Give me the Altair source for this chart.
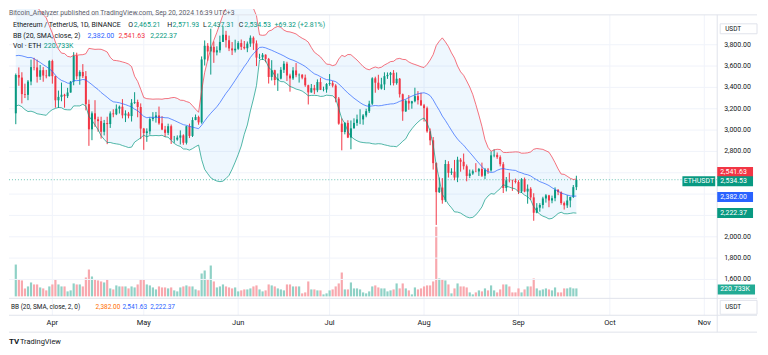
import altair as alt
import pandas as pd

FONT = "Roboto"
INK = "#131722"
GRAY = "#5d606b"
UP = "#089981"
DOWN = "#f23645"
BLUE = "#2962ff"
FRAME = "#e0e3eb"
GRID = "#f0f3fa"

# ---------------- data (ETH/USDT daily) ----------------
dates = pd.date_range("2024-03-20", "2024-09-20", freq="D")

# closes of Mar 1 - Mar 19 (only used to warm up the 20-day Bollinger band)
warmup_close = [3435, 3420, 3490, 3630, 3555, 3820, 3870, 3895, 3915, 3880,
                4065, 3980, 4005, 3880, 3735, 3525, 3645, 3520, 3157]

open_mar = [3157, 3516, 3492, 3337, 3330, 3455, 3590, 3587, 3500, 3561, 3511, 3505]
high_mar = [3530, 3587, 3542, 3435, 3469, 3660, 3677, 3660, 3610, 3590, 3564, 3655]
low_mar = [3055, 3415, 3250, 3300, 3280, 3420, 3560, 3445, 3470, 3453, 3485, 3502]
close_mar = [3516, 3492, 3337, 3330, 3455, 3590, 3587, 3500, 3561, 3511, 3505, 3647]

open_apr = [3647, 3505, 3279, 3311, 3331, 3318, 3352, 3454, 3697, 3504, 3544, 3505, 3243, 3007, 3157,
            3101, 3084, 2984, 3066, 3056, 3156, 3148, 3200, 3219, 3138, 3155, 3131, 3256, 3263, 3216]
high_apr = [3660, 3510, 3370, 3445, 3340, 3396, 3460, 3730, 3725, 3560, 3618, 3553, 3285, 3175, 3280,
            3125, 3125, 3095, 3125, 3175, 3195, 3240, 3230, 3290, 3185, 3170, 3290, 3355, 3285, 3250]
low_apr = [3435, 3210, 3207, 3270, 3210, 3300, 3350, 3420, 3475, 3425, 3488, 3185, 2852, 2905, 3030,
           2985, 2920, 2950, 2868, 3020, 3120, 3140, 3155, 3110, 3075, 3110, 3080, 3245, 3120, 2915]
close_apr = [3505, 3279, 3311, 3331, 3318, 3352, 3454, 3697, 3504, 3544, 3505, 3243, 3007, 3157, 3101,
             3084, 2984, 3066, 3056, 3156, 3148, 3200, 3219, 3138, 3155, 3131, 3256, 3263, 3216, 3014]

open_may = [3014, 2972, 2988, 3103, 3117, 3137, 3063, 3005, 2974, 3036, 2910, 2911, 2929, 2950, 2881, 3036,
            2945, 3094, 3122, 3072, 3662, 3790, 3737, 3780, 3728, 3748, 3826, 3893, 3842, 3765, 3747]
high_may = [3020, 3016, 3120, 3168, 3170, 3220, 3130, 3039, 3060, 3052, 2945, 2950, 2997, 2960, 3040, 3060,
            3120, 3146, 3135, 3690, 3840, 3815, 3950, 3830, 3785, 3885, 3975, 3930, 3885, 3825, 3847]
low_may = [2815, 2890, 2957, 3083, 3070, 3050, 2999, 2935, 2953, 2870, 2880, 2900, 2865, 2862, 2865, 2925,
           2935, 3092, 3050, 3060, 3605, 3650, 3520, 3630, 3700, 3725, 3826, 3774, 3740, 3703, 3727]
close_may = [2972, 2988, 3103, 3117, 3137, 3063, 3005, 2974, 3036, 2910, 2911, 2929, 2950, 2881, 3036, 2945,
             3094, 3122, 3072, 3662, 3790, 3737, 3780, 3728, 3748, 3826, 3893, 3842, 3765, 3747, 3762]

open_jun = [3762, 3815, 3780, 3767, 3810, 3865, 3812, 3679, 3682, 3706, 3667, 3498, 3561, 3469, 3482,
            3565, 3622, 3511, 3484, 3559, 3514, 3518, 3491, 3420, 3353, 3393, 3373, 3450, 3377, 3380]
high_jun = [3833, 3849, 3835, 3830, 3887, 3878, 3840, 3715, 3722, 3710, 3676, 3655, 3565, 3530, 3590,
            3646, 3640, 3528, 3590, 3628, 3530, 3525, 3520, 3425, 3432, 3423, 3475, 3490, 3407, 3440]
low_jun = [3752, 3750, 3755, 3730, 3780, 3751, 3600, 3665, 3657, 3635, 3436, 3465, 3420, 3367, 3475,
           3535, 3460, 3360, 3470, 3495, 3445, 3476, 3405, 3240, 3350, 3337, 3355, 3375, 3363, 3350]
close_jun = [3815, 3780, 3767, 3810, 3865, 3812, 3679, 3682, 3706, 3667, 3498, 3561, 3469, 3482, 3565,
             3622, 3511, 3484, 3559, 3514, 3518, 3491, 3420, 3353, 3393, 3373, 3450, 3377, 3380, 3432]

open_jul = [3432, 3440, 3417, 3295, 3060, 2982, 3067, 2930, 3016, 3067, 3100, 3100, 3137, 3177, 3247, 3485,
            3444, 3389, 3428, 3505, 3517, 3536, 3440, 3481, 3336, 3175, 3274, 3250, 3270, 3318, 3280]
high_jul = [3525, 3460, 3430, 3310, 3110, 3075, 3092, 3090, 3110, 3145, 3195, 3150, 3200, 3275, 3495, 3500,
            3518, 3490, 3541, 3540, 3545, 3562, 3540, 3488, 3342, 3285, 3328, 3274, 3397, 3365, 3350]
low_jul = [3415, 3400, 3260, 3050, 2810, 2960, 2925, 2820, 3015, 3040, 3055, 3050, 3120, 3160, 3235, 3350,
           3375, 3380, 3375, 3480, 3420, 3418, 3425, 3305, 3087, 3170, 3190, 3200, 3260, 3240, 3225]
close_jul = [3440, 3417, 3295, 3060, 2982, 3067, 2930, 3016, 3067, 3100, 3100, 3137, 3177, 3247, 3485, 3444,
             3389, 3428, 3505, 3517, 3536, 3440, 3481, 3336, 3175, 3274, 3250, 3270, 3318, 3280, 3232]

open_aug = [3232, 3205, 2988, 2904, 2690, 2418, 2461, 2343, 2682, 2599, 2610, 2555, 2722, 2703, 2661, 2570,
            2593, 2614, 2612, 2636, 2572, 2630, 2622, 2763, 2768, 2746, 2680, 2457, 2529, 2528, 2525]
high_aug = [3245, 3220, 3015, 2935, 2697, 2555, 2550, 2720, 2708, 2642, 2720, 2750, 2737, 2780, 2677, 2630,
            2630, 2690, 2645, 2695, 2645, 2645, 2800, 2820, 2790, 2763, 2700, 2560, 2600, 2535, 2545]
low_aug = [3080, 2975, 2858, 2630, 2111, 2410, 2310, 2325, 2555, 2580, 2530, 2512, 2610, 2630, 2520, 2550,
           2580, 2605, 2570, 2560, 2540, 2590, 2610, 2745, 2730, 2660, 2410, 2425, 2510, 2430, 2500]
close_aug = [3205, 2988, 2904, 2690, 2418, 2461, 2343, 2682, 2599, 2610, 2555, 2722, 2703, 2661, 2570, 2593,
             2614, 2612, 2636, 2572, 2630, 2622, 2763, 2768, 2746, 2680, 2457, 2529, 2528, 2525, 2513]

open_sep = [2513, 2425, 2538, 2424, 2450, 2369, 2225, 2273, 2298, 2359,
            2388, 2340, 2361, 2441, 2418, 2316, 2294, 2340, 2373, 2465.21]
high_sep = [2530, 2550, 2555, 2490, 2465, 2408, 2315, 2315, 2375, 2400,
            2393, 2386, 2463, 2445, 2425, 2330, 2390, 2375, 2485, 2571.93]
low_sep = [2400, 2410, 2417, 2310, 2346, 2150, 2220, 2235, 2265, 2320,
           2277, 2314, 2333, 2390, 2300, 2255, 2270, 2276, 2363, 2437.31]
close_sep = [2425, 2538, 2424, 2450, 2369, 2225, 2273, 2298, 2359, 2388,
             2340, 2361, 2441, 2418, 2316, 2294, 2340, 2373, 2465, 2534.53]

# volume in thousand ETH
vol_mar = [883, 469, 442, 221, 276, 386, 331, 331, 248, 221, 166, 276]
vol_apr = [331, 469, 331, 276, 276, 138, 166, 359, 331, 331, 276, 524, 745, 552, 469,
           442, 414, 386, 469, 221, 193, 304, 276, 276, 276, 221, 276, 248, 331, 469]
vol_may = [469, 331, 304, 248, 193, 276, 248, 248, 221, 248, 166, 138, 248, 276, 304, 276,
           276, 193, 166, 635, 718, 469, 856, 414, 248, 276, 331, 276, 248, 221, 248]
vol_jun = [138, 166, 193, 193, 221, 276, 304, 193, 138, 166, 331, 304, 276, 221, 193,
           166, 331, 331, 276, 276, 276, 83, 110, 414, 193, 193, 166, 166, 55, 83]
vol_jul = [166, 193, 276, 359, 662, 193, 193, 386, 221, 221, 193, 110, 83, 138, 276, 304,
           248, 221, 221, 138, 166, 193, 359, 221, 359, 221, 166, 55, 248, 193, 221]
vol_aug = [276, 304, 304, 414, 1932, 497, 469, 442, 331, 83, 221, 359, 276, 276, 248, 110,
           55, 110, 166, 138, 221, 166, 304, 166, 110, 193, 331, 331, 276, 110, 110]
vol_sep = [221, 110, 193, 276, 276, 497, 221, 166, 193, 221,
           193, 166, 248, 110, 110, 221, 221, 248, 221, 220.733]

month_labels = ["Apr", "May", "Jun", "Jul", "Aug", "Sep", "Oct", "Nov"]
month_starts = ["2024-04-01", "2024-05-01", "2024-06-01", "2024-07-01",
                "2024-08-01", "2024-09-01", "2024-10-01", "2024-11-01"]
price_ticks = [1600, 1800, 2000, 2200, 2400, 2600, 2800, 3000, 3200, 3400, 3600, 3800]
price_tick_labels = ["1,600.00", "1,800.00", "2,000.00", "", "", "",
                     "2,800.00", "3,000.00", "3,200.00", "3,400.00", "3,600.00", "3,800.00"]

opens = open_mar + open_apr + open_may + open_jun + open_jul + open_aug + open_sep
highs = high_mar + high_apr + high_may + high_jun + high_jul + high_aug + high_sep
lows = low_mar + low_apr + low_may + low_jun + low_jul + low_aug + low_sep
closes = close_mar + close_apr + close_may + close_jun + close_jul + close_aug + close_sep
vols = vol_mar + vol_apr + vol_may + vol_jun + vol_jul + vol_aug + vol_sep
n = len(dates)
assert len(opens) == len(highs) == len(lows) == len(closes) == len(vols) == n

t0 = dates[0]
df = pd.DataFrame({
    "i": [(d - t0).days for d in dates],
    "open": opens, "high": highs, "low": lows, "close": closes, "volume": vols,
})

# Bollinger band BB(20, SMA, close, 2)
allc = pd.Series(warmup_close + closes, dtype=float)
mid = allc.rolling(20).mean()
sd = allc.rolling(20).std(ddof=0)
df["basis"] = mid.iloc[-n:].values
df["upper"] = (mid + 2 * sd).iloc[-n:].values
df["lower"] = (mid - 2 * sd).iloc[-n:].values

months = pd.DataFrame({
    "label": month_labels,
    "i": [(pd.Timestamp(m) - t0).days for m in month_starts],
})
ticks = pd.DataFrame({"p": price_ticks, "label": price_tick_labels})

# ---------------- scales ----------------
W, H = 712, 308
xs = alt.Scale(domain=[-0.6, 228.6], nice=False, zero=False)
ps = alt.Scale(domain=[1264.3, 4135.6], nice=False, zero=False)
vs = alt.Scale(domain=[-524.4, 7976.4], nice=False, zero=False)
X = alt.X("i:Q", scale=xs, axis=None)

up_cond = "datum.close >= datum.open"
one = pd.DataFrame({"k": [0]})


def txt(s, x, y, color=INK, size=7, weight="normal", align="left"):
    return alt.Chart(one).mark_text(
        text=s, align=align, baseline="middle", font=FONT, fontSize=size,
        fontWeight=weight, color=color,
    ).encode(x=alt.value(x), y=alt.value(y))


def hline(y, x1=0, x2=752, color=FRAME):
    return alt.Chart(one).mark_rule(color=color, strokeWidth=1).encode(
        x=alt.value(x1), x2=alt.value(x2), y=alt.value(y))


def price_box(value, color, label, yoff=0, x1=712, x2=748, tx=715, align="left"):
    yd = alt.YDatum(value, type="quantitative", scale=ps, axis=None)
    r = alt.Chart(one).mark_rule(color=color, strokeWidth=10, yOffset=yoff).encode(
        x=alt.value(x1), x2=alt.value(x2), y=yd)
    t = alt.Chart(one).mark_text(text=label, color="white", font=FONT, fontSize=7,
                                 align=align, baseline="middle", yOffset=yoff).encode(
        x=alt.value(tx), y=yd)
    return r + t


base = alt.Chart(df)

# ---------------- volume group (own y scale) ----------------
vgrid = alt.Chart(months).mark_rule(color=GRID, strokeWidth=1).encode(
    x=X, y=alt.value(6), y2=alt.value(308))
vbars = base.mark_bar(size=2.2).encode(
    x=X,
    y=alt.Y("volume:Q", scale=vs, axis=None),
    y2=alt.Y2Datum(0),
    color=alt.condition(up_cond, alt.value("#8fd1c6"), alt.value("#f8a8ae")),
)
vyd = alt.YDatum(220.733, type="quantitative", scale=vs, axis=None)
vbox = alt.Chart(one).mark_rule(color="#22ab94", strokeWidth=10, yOffset=1).encode(
    x=alt.value(712), x2=alt.value(750), y=vyd)
vtext = alt.Chart(one).mark_text(text="220.733K", color="white", font=FONT, fontSize=7,
                                 align="left", baseline="middle", yOffset=1).encode(
    x=alt.value(715), y=vyd)
vol_group = alt.layer(vgrid, vbars, vbox, vtext)

# ---------------- price group ----------------
hgrid = alt.Chart(ticks).mark_rule(color=GRID, strokeWidth=1).encode(
    x=alt.value(0), x2=alt.value(712),
    y=alt.Y("p:Q", scale=ps, axis=None))
tick_text = alt.Chart(ticks).mark_text(
    font=FONT, fontSize=7, color=INK, align="left", baseline="middle").encode(
    x=alt.value(719), y=alt.Y("p:Q", scale=ps, axis=None), text="label:N")
bb_fill = base.mark_area(color="#2196f3", opacity=0.08, clip=True).encode(
    x=X, y=alt.Y("upper:Q", scale=ps, axis=None), y2="lower:Q")
wicks = base.mark_rule(strokeWidth=1).encode(
    x=X, y=alt.Y("low:Q", scale=ps, axis=None), y2="high:Q",
    color=alt.condition(up_cond, alt.value(UP), alt.value(DOWN)))
bodies = base.mark_bar(size=2).encode(
    x=X, y=alt.Y("open:Q", scale=ps, axis=None), y2="close:Q",
    color=alt.condition(up_cond, alt.value(UP), alt.value(DOWN)))
bb_up = base.mark_line(clip=True, strokeWidth=1, color=DOWN, opacity=0.7).encode(
    x=X, y=alt.Y("upper:Q", scale=ps, axis=None))
bb_mid = base.mark_line(clip=True, strokeWidth=1, color=BLUE, opacity=0.7).encode(
    x=X, y=alt.Y("basis:Q", scale=ps, axis=None))
bb_lo = base.mark_line(clip=True, strokeWidth=1, color=UP, opacity=0.7).encode(
    x=X, y=alt.Y("lower:Q", scale=ps, axis=None))
last_line = alt.Chart(one).mark_rule(color=UP, opacity=0.6, strokeDash=[1, 2]).encode(
    x=alt.value(0), x2=alt.value(712),
    y=alt.YDatum(2534.53, type="quantitative", scale=ps, axis=None))

month_text = alt.Chart(months).mark_text(
    font=FONT, fontSize=7.5, color=INK, align="center", baseline="middle").encode(
    x=X, y=alt.value(316), text="label:N")

frame = [
    hline(6), hline(291), hline(308), hline(325),
    alt.Chart(one).mark_rule(color=FRAME).encode(
        x=alt.value(712), y=alt.value(6), y2=alt.value(325)),
]

usdt_top = alt.Chart(one).mark_rect(fill="white", stroke=FRAME, strokeWidth=1).encode(
    x=alt.value(715), x2=alt.value(752), y=alt.value(15), y2=alt.value(25))
usdt_bot = alt.Chart(one).mark_rect(fill="white", stroke=FRAME, strokeWidth=1).encode(
    x=alt.value(715), x2=alt.value(752), y=alt.value(293), y2=alt.value(307))

texts = [
    txt("Bitcoin_Analyzer published on TradingView.com, Sep 20, 2024 16:39 UTC+3", 0, 4, GRAY, 6.8),
    txt("Ethereum / TetherUS, 1D, BINANCE", 4, 16.5, INK, 7),
    txt("O", 120, 16.5, INK, 7), txt("2,465.21", 125.5, 16.5, UP, 7),
    txt("H", 159, 16.5, INK, 7), txt("2,571.93", 164.5, 16.5, UP, 7),
    txt("L", 195, 16.5, INK, 7), txt("2,437.31", 199.5, 16.5, UP, 7),
    txt("C", 231, 16.5, INK, 7), txt("2,534.53", 236.5, 16.5, UP, 7),
    txt("+69.32 (+2.81%)", 267, 16.5, UP, 7),
    txt("BB (20, SMA, close, 2)", 4, 27, INK, 7),
    txt("2,382.00", 79, 27, BLUE, 7), txt("2,541.63", 110, 27, DOWN, 7),
    txt("2,222.37", 142, 27, UP, 7),
    txt("Vol · ETH", 4, 37.5, INK, 7), txt("220.733K", 35, 37.5, UP, 7),
    txt("BB (20, SMA, close, 2, 0)", 2, 299.5, INK, 6.5),
    txt("2,382.00", 87, 299.5, "#ff6d00", 6.5), txt("2,541.63", 114, 299.5, BLUE, 6.5),
    txt("2,222.37", 142, 299.5, BLUE, 6.5),
    txt("USDT", 720, 20, INK, 6.5), txt("USDT", 720, 300, INK, 6.5),
    txt("TV", 0, 335, INK, 8, "bold"), txt("TradingView", 11, 335, INK, 7.5),
]

boxes = [
    price_box(2541.63, DOWN, "2,541.63", yoff=-7),
    price_box(2534.53, UP, "2,534.53", yoff=1.5),
    price_box(2534.53, UP, "ETHUSDT", yoff=1.5, x1=677, x2=710, tx=693.5, align="center"),
    price_box(2382.00, BLUE, "2,382.00", yoff=1),
    price_box(2222.37, UP, "2,222.37"),
]

price_group = alt.layer(hgrid, tick_text, bb_fill, last_line, wicks, bodies, bb_up, bb_mid, bb_lo,
                        month_text, *frame, usdt_top, usdt_bot, *texts, *boxes)

chart = alt.layer(vol_group, price_group).resolve_scale(y="independent").properties(
    width=W, height=H, padding=0, background="white",
).configure_view(stroke=None)

chart.save("out.html", embed_options={"renderer": "svg", "actions": False})
